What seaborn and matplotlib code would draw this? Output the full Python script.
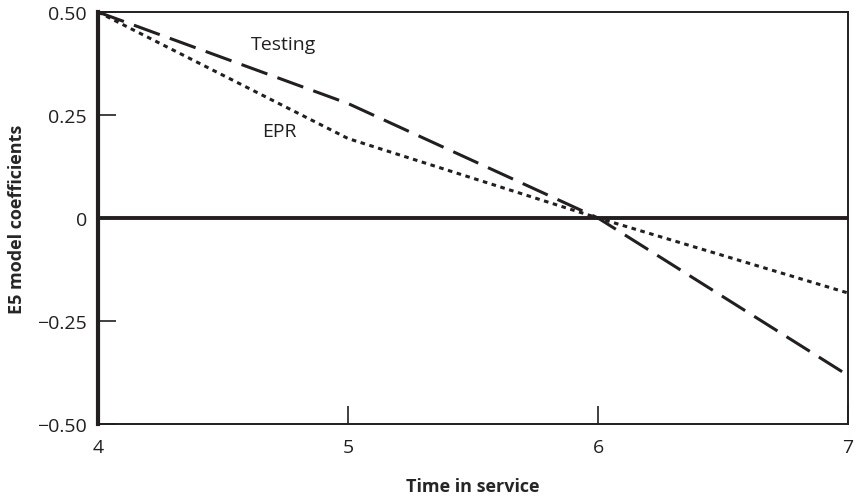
import pandas as pd
import matplotlib.pyplot as plt
import seaborn as sns

# Datos
time_in_service = [4, 5, 6, 7]
testing = [0.50, 0.278, 0.0, -0.382]
epr = [0.50, 0.193, 0.0, -0.182]

df = pd.DataFrame({
    "time": time_in_service * 2,
    "coef": testing + epr,
    "serie": ["Testing"] * 4 + ["EPR"] * 4,
})

sns.set_style("ticks")
plt.rcParams["font.family"] = ["Open Sans", "DejaVu Sans"]

fig = plt.figure(figsize=(8.57, 5.02), dpi=100)
ax = fig.add_axes([0.1144, 0.1534, 0.8751, 0.8206])

sns.lineplot(data=df, x="time", y="coef", style="serie",
             dashes={"Testing": (9, 3.5), "EPR": (1.5, 1.5)},
             color="#231f20", linewidth=2.2, legend=False, ax=ax)

ax.axhline(0, color="#231f20", linewidth=2.8)

ax.set_xlim(4, 7)
ax.set_ylim(-0.5, 0.5)
ax.set_xticks([4, 5, 6, 7])
ax.set_xticklabels(["4", "5", "6", "7"])
ax.set_yticks([-0.5, -0.25, 0, 0.25, 0.5])
ax.set_yticklabels(["\u22120.50", "\u22120.25", "0", "0.25", "0.50"])
ax.tick_params(direction="in", length=13, width=1.2, colors="#231f20",
               labelsize=14)
ax.tick_params(axis="x", pad=10)
ax.tick_params(axis="y", pad=8)

for side in ["top", "right", "bottom"]:
    ax.spines[side].set_linewidth(1.4)
    ax.spines[side].set_color("#231f20")
ax.spines["left"].set_linewidth(3)
ax.spines["left"].set_color("#231f20")

ax.text(4.61, 0.41, "Testing", fontsize=14, color="#231f20")
ax.text(4.655, 0.2, "EPR", fontsize=14, color="#231f20")

ax.set_xlabel("Time in service", fontsize=13, fontweight="bold", labelpad=15)
ax.set_ylabel("E5 model coefficients", fontsize=13, fontweight="bold", labelpad=8)

fig.savefig("out.png", dpi=100)
